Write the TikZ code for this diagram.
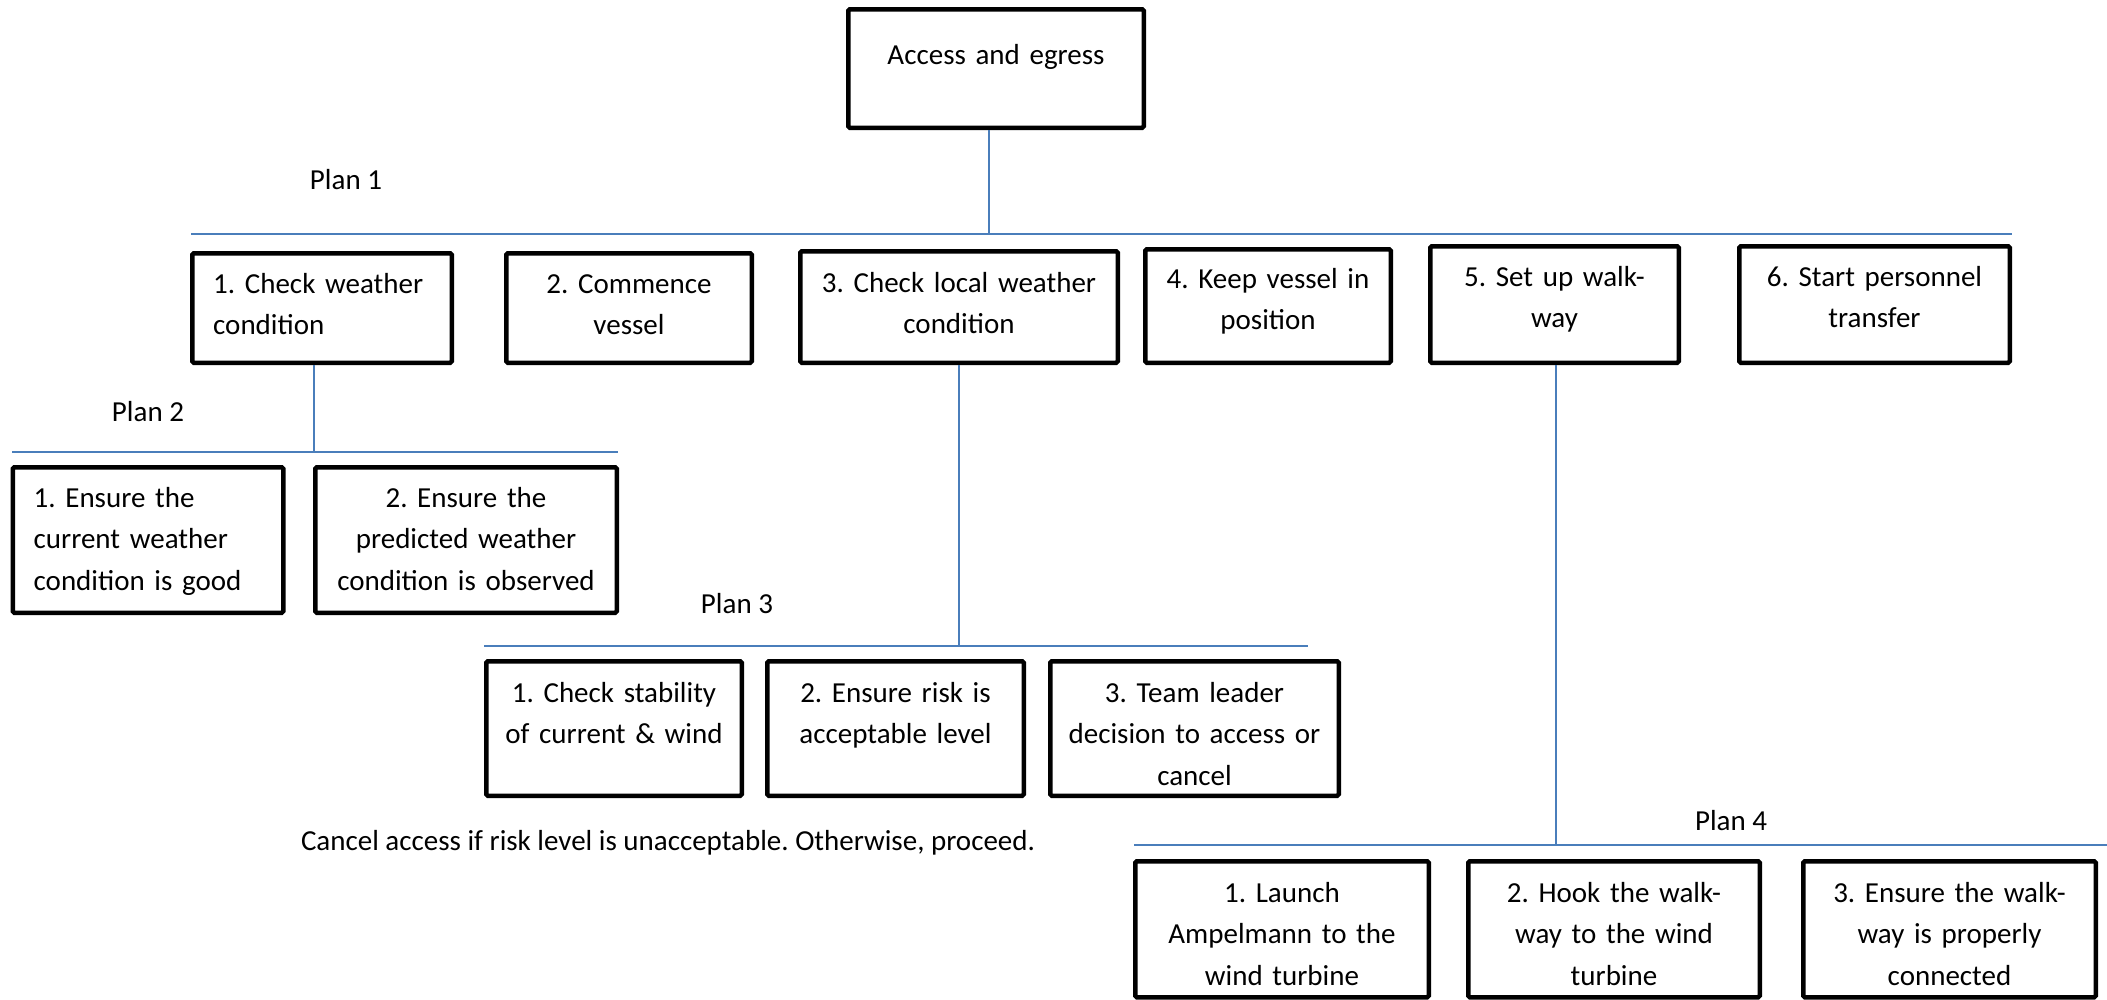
\documentclass[tikz,border=0pt]{standalone}
\usepackage{fontspec}
\setmainfont{Carlito}
\frenchspacing
\definecolor{linkblue}{HTML}{4A7EBB}

% box with centred text: name, left, top, right, bottom, first baseline, text
\newcommand\taskboxC[7]{%
  \pgfmathsetmacro\bw{#4-#2-4.5}\pgfmathsetmacro\bh{#5-#3-4.5}%
  \pgfmathsetmacro\tw{#4-#2-10}%
  \node[box, minimum width=\bw pt, minimum height=\bh pt] (#1) at ({(#2+#4)/2},{(#3+#5)/2}) {};
  \node[txt, text width=\tw pt, align=center, anchor=base] (#1-text) at ({(#2+#4)/2},#6) {#7};}
% box with left-aligned text
\newcommand\taskboxL[7]{%
  \pgfmathsetmacro\bw{#4-#2-4.5}\pgfmathsetmacro\bh{#5-#3-4.5}%
  \pgfmathsetmacro\tw{#4-#2-30}%
  \node[box, minimum width=\bw pt, minimum height=\bh pt] (#1) at ({(#2+#4)/2},{(#3+#5)/2}) {};
  \node[txt, text width=\tw pt, align=left, anchor=base west] (#1-text) at ({#2+23},#6) {#7};}

\begin{document}
\begin{tikzpicture}[x=1pt,y=-1pt,
  box/.style={draw=black, line width=4.5pt, rectangle, inner sep=0pt, rounded corners=1.5pt},
  txt/.style={font=\fontsize{29}{41.5}\selectfont, inner sep=0pt},
  link/.style={draw=linkblue, line width=1.8pt},
  plan/.style={font=\fontsize{29}{41.5}\selectfont, inner sep=0pt, anchor=base}]
\useasboundingbox (0,0) rectangle (2107,999);

% top-level task
\taskboxC{top}{846}{7}{1146}{130}{64}{Access and egress}

% plan 1 subtasks
\taskboxL{s1}{190}{251}{454}{365}{293}{1. Check weather\\condition}
\taskboxC{s2}{504}{251}{754}{365}{293}{2. Commence\\vessel}
\taskboxC{s3}{798}{249}{1120}{365}{292}{3. Check local weather\\condition}
\taskboxC{s4}{1143}{247}{1393}{365}{288}{4. Keep vessel in\\position}
\taskboxC{s5}{1428}{244}{1681}{365}{286}{5. Set up walk-\\way}
\taskboxC{s6}{1737}{244}{2012}{365}{286}{6. Start personnel\\transfer}

% plan 2 subtasks
\taskboxL{w1}{10.5}{465}{285.5}{615}{507}{1. Ensure the\\current weather\\condition is good}
\taskboxC{w2}{313}{465}{619}{615}{507}{2. Ensure the\\predicted weather\\condition is observed}

% plan 3 subtasks
\taskboxC{l1}{484}{659}{744}{798}{702}{1. Check stability\\of current \& wind}
\taskboxC{l2}{765}{659}{1026}{798}{702}{2. Ensure risk is\\acceptable level}
\taskboxC{l3}{1048}{659}{1341}{798}{702}{3. Team leader\\decision to access or\\cancel}

% plan 4 subtasks
\taskboxC{k1}{1133}{859}{1431}{999.5}{902}{1. Launch\\Ampelmann to the\\wind turbine}
\taskboxC{k2}{1466}{859}{1762}{999.5}{902}{2. Hook the walk-\\way to the wind\\turbine}
\taskboxC{k3}{1801}{859}{2098}{999.5}{902}{3. Ensure the walk-\\way is properly\\connected}

% plan bars
\coordinate (p1L) at (191,234);  \coordinate (p1R) at (2012,234);  \coordinate (p1J) at (989,234);
\coordinate (p2L) at (12,452);   \coordinate (p2R) at (618,452);   \coordinate (p2J) at (314,452);
\coordinate (p3L) at (484,646);  \coordinate (p3R) at (1308,646);  \coordinate (p3J) at (959,646);
\coordinate (p4L) at (1134,845); \coordinate (p4R) at (2107,845);  \coordinate (p4J) at (1556,845);

\draw[link] (p1L) -- (p1R);
\draw[link] (top.south -| p1J) -- (p1J);
\draw[link] (p2L) -- (p2R);
\draw[link] (s1.south -| p2J) -- (p2J);
\draw[link] (p3L) -- (p3R);
\draw[link] (s3.south -| p3J) -- (p3J);
\draw[link] (p4L) -- (p4R);
\draw[link] (s5.south -| p4J) -- (p4J);

% plan labels
\node[plan] (plan1) at (346,189) {Plan 1};
\node[plan] (plan2) at (148,421) {Plan 2};
\node[plan] (plan3) at (737,613) {Plan 3};
\node[plan] (plan4) at (1731,830) {Plan 4};
\node[plan] (note) at (668,850) {Cancel access if risk level is unacceptable. Otherwise, proceed.};
\end{tikzpicture}
\end{document}
